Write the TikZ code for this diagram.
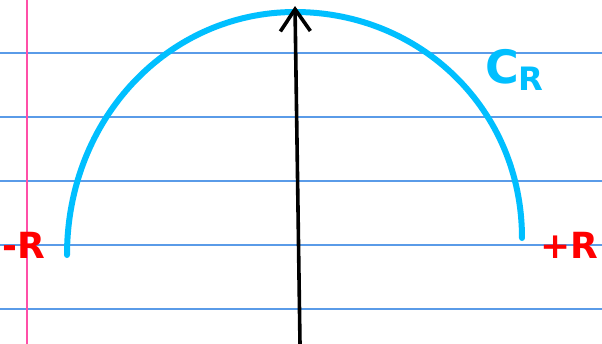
\documentclass[tikz,border=0pt]{standalone}
\usepackage{fontspec}
\newfontfamily\handfont{DejaVu Sans}
\usetikzlibrary{arrows.meta}
\definecolor{cRule}{HTML}{5A9BE8}
\definecolor{cMargin}{HTML}{FF4FA8}
\definecolor{cArc}{HTML}{00BFFF}
\definecolor{cMark}{HTML}{FF0000}
\tikzset{
  rule/.style={draw=cRule, line width=0.7pt},
  margin/.style={draw=cMargin, line width=1.2pt},
  contour/.style={draw=cArc, line width=3pt, line cap=round},
  axis/.style={draw=black, line width=1.8pt, line cap=round,
    -{Straight Barb[length=11pt, width=15pt, line width=1.8pt]}},
  endlabel/.style={text=cMark, font=\handfont\bfseries\fontsize{18}{18}\selectfont, inner sep=0pt},
  curvelabel/.style={text=cArc, font=\handfont\bfseries\fontsize{23}{23}\selectfont, inner sep=0pt},
}

\begin{document}
\begin{tikzpicture}[x=0.5pt, y=-0.5pt]
\useasboundingbox[fill=white] (0,0) rectangle (602,344);
% ruled paper
\foreach \yy in {53,117,181,245,309}
  \draw[rule] (0,\yy) -- (602,\yy);
\draw[margin] (27,0) -- (27,344);
% half circle C_R
\draw[contour] (67,255) .. controls (67,118) and (169,12) .. (295,12)
  .. controls (421,12) and (522,110) .. (522,238);
% imaginary axis
\coordinate (axbot) at (300,344);
\coordinate (axtop) at (295,6);
\draw[axis] (axbot) -- (axtop);
% labels
\node[endlabel] (mR) at (24,245) {-R};
\node[endlabel] (pR) at (569,245) {+R};
\node[curvelabel] (CR) at (515,70) {C\textsubscript{R}};
\end{tikzpicture}
\end{document}
